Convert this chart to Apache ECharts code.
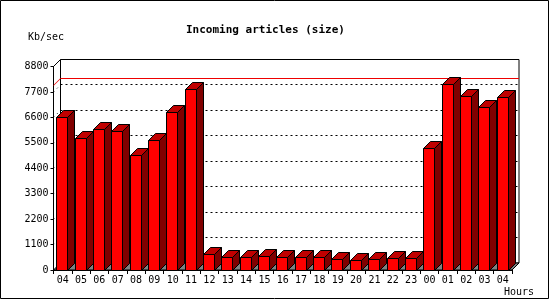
<!DOCTYPE html>
<html>
<head>
<meta charset="utf-8">
<script src="https://cdn.jsdelivr.net/npm/echarts@6/dist/echarts.min.js"></script>
<style>html,body{margin:0;padding:0;background:#fff}#c{width:550px;height:300px}</style>
</head>
<body>
<div id="c"></div>
<script>
var hours = ['04','05','06','07','08','09','10','11','12','13','14','15','16','17','18','19','20','21','22','23','00','01','02','03','04'];
var sizeKb = [6590,5680,6070,5980,4950,5590,6800,7820,680,550,550,590,550,550,550,460,420,460,500,500,5250,8020,7490,7020,7450];
var yTicks = [0,1100,2200,3300,4400,5500,6600,7700,8800];
var DEPTH = 7;
var FONT = 'DejaVu Sans Mono';

var chart = echarts.init(document.getElementById('c'), null, {renderer: 'canvas'});
var maxVal = Math.max.apply(null, sizeKb);

function crisp(v) { return Math.round(v - 0.5) + 0.5; }

function frameItem(params, api) {
  var cs = params.coordSys;
  var L = cs.x, T = cs.y, R = cs.x + cs.width, B = cs.y + cs.height;
  var d = DEPTH;
  var ch = [];
  ch.push({type: 'rect', shape: {x: L + d, y: T - d, width: R - L, height: B - T},
    style: {fill: '#fff', stroke: '#000', lineWidth: 1}});
  for (var i = 1; i < yTicks.length - 1; i++) {
    var y = api.coord([0, yTicks[i]])[1];
    var yb = crisp(y - d);
    ch.push({type: 'line', shape: {x1: L + d, y1: yb, x2: R + d, y2: yb},
      style: {stroke: '#000', lineWidth: 1, lineDash: [2, 3]}});
    ch.push({type: 'line', shape: {x1: L, y1: y, x2: L + d, y2: y - d},
      style: {stroke: '#000', lineWidth: 1, lineDash: [1, 4]}});
  }
  ch.push({type: 'line', shape: {x1: L, y1: T, x2: L + d, y2: T - d}, style: {stroke: '#000', lineWidth: 1}});
  ch.push({type: 'polygon', shape: {points: [[L, B], [R, B], [R + d, B - d], [L + d, B - d]]},
    style: {fill: '#808080', stroke: '#000', lineWidth: 1}});
  var ym = Math.round(api.coord([0, maxVal])[1]);
  ch.push({type: 'polygon', shape: {points: [[L, ym], [L + d, ym - d], [L + d, ym - d + 1], [L, ym + 1]]},
    style: {fill: '#ee0000'}});
  ch.push({type: 'rect', shape: {x: L + d, y: ym - d, width: R - L, height: 1},
    style: {fill: '#ee0000'}});
  return {type: 'group', children: ch};
}

function barItem(params, api) {
  var top = api.coord([api.value(0), api.value(1)]);
  var base = api.coord([api.value(0), 0]);
  var bw = api.size([1, 0])[0];
  var w = Math.round(bw * 0.6);
  var x0 = crisp(top[0] - bw * 0.315);
  var x1 = x0 + w;
  var yt = crisp(top[1]), yb = crisp(base[1]);
  var d = DEPTH;
  return {type: 'group', children: [
    {type: 'polygon', shape: {points: [[x1, yt], [x1 + d, yt - d], [x1 + d, yb - d], [x1, yb]]},
      style: {fill: '#800000', stroke: '#000', lineWidth: 1}},
    {type: 'polygon', shape: {points: [[x0, yt], [x1, yt], [x1 + d, yt - d], [x0 + d, yt - d]]},
      style: {fill: '#c00000', stroke: '#000', lineWidth: 1}},
    {type: 'rect', shape: {x: x0, y: yt, width: w, height: yb - yt},
      style: {fill: '#ff0000', stroke: '#000', lineWidth: 1}}
  ]};
}

chart.setOption({
  animation: false,
  backgroundColor: '#fff',
  title: {text: 'Incoming articles (size)', left: 181, top: 20,
    textStyle: {fontFamily: FONT, fontSize: 11, fontWeight: 'bold', color: '#000'}},
  graphic: [
    {type: 'rect', shape: {x: 0.5, y: 0.5, width: 548, height: 298}, style: {fill: null, stroke: '#000', lineWidth: 1}, z: 100},
    {type: 'text', left: 28, top: 32, style: {text: 'Kb/sec', font: '10px ' + FONT, fill: '#000'}},
    {type: 'text', left: 504, top: 287, style: {text: 'Hours', font: '10px ' + FONT, fill: '#000'}}
  ],
  grid: {left: 53.5, right: 38, top: 66.5, bottom: 30},
  xAxis: {type: 'category', data: hours, boundaryGap: true,
    axisLine: {show: true, lineStyle: {color: '#000', width: 1}},
    axisTick: {show: true, length: 4, lineStyle: {color: '#000'}, interval: 0},
    axisLabel: {interval: 0, fontFamily: FONT, fontSize: 10, color: '#000', margin: 5},
    splitLine: {show: false}},
  yAxis: {type: 'value', min: 0, max: 8800, interval: 1100,
    axisLine: {show: true, lineStyle: {color: '#000', width: 1}},
    axisTick: {show: true, length: 3, lineStyle: {color: '#000'}},
    axisLabel: {fontFamily: FONT, fontSize: 10, color: '#000', margin: 5,
      formatter: function (v) { return yTicks.indexOf(v) >= 0 ? String(v) : ''; }},
    splitLine: {show: false}},
  series: [
    {type: 'custom', renderItem: function (p, api) { return p.dataIndex === 0 ? frameItem(p, api) : null; },
      data: [[0, 0]], z: 1, silent: true, clip: false},
    {type: 'custom', renderItem: barItem, data: sizeKb.map(function (v, i) { return [i, v]; }),
      encode: {x: 0, y: 1}, z: 3, clip: false}
  ]
});
</script>
</body>
</html>
